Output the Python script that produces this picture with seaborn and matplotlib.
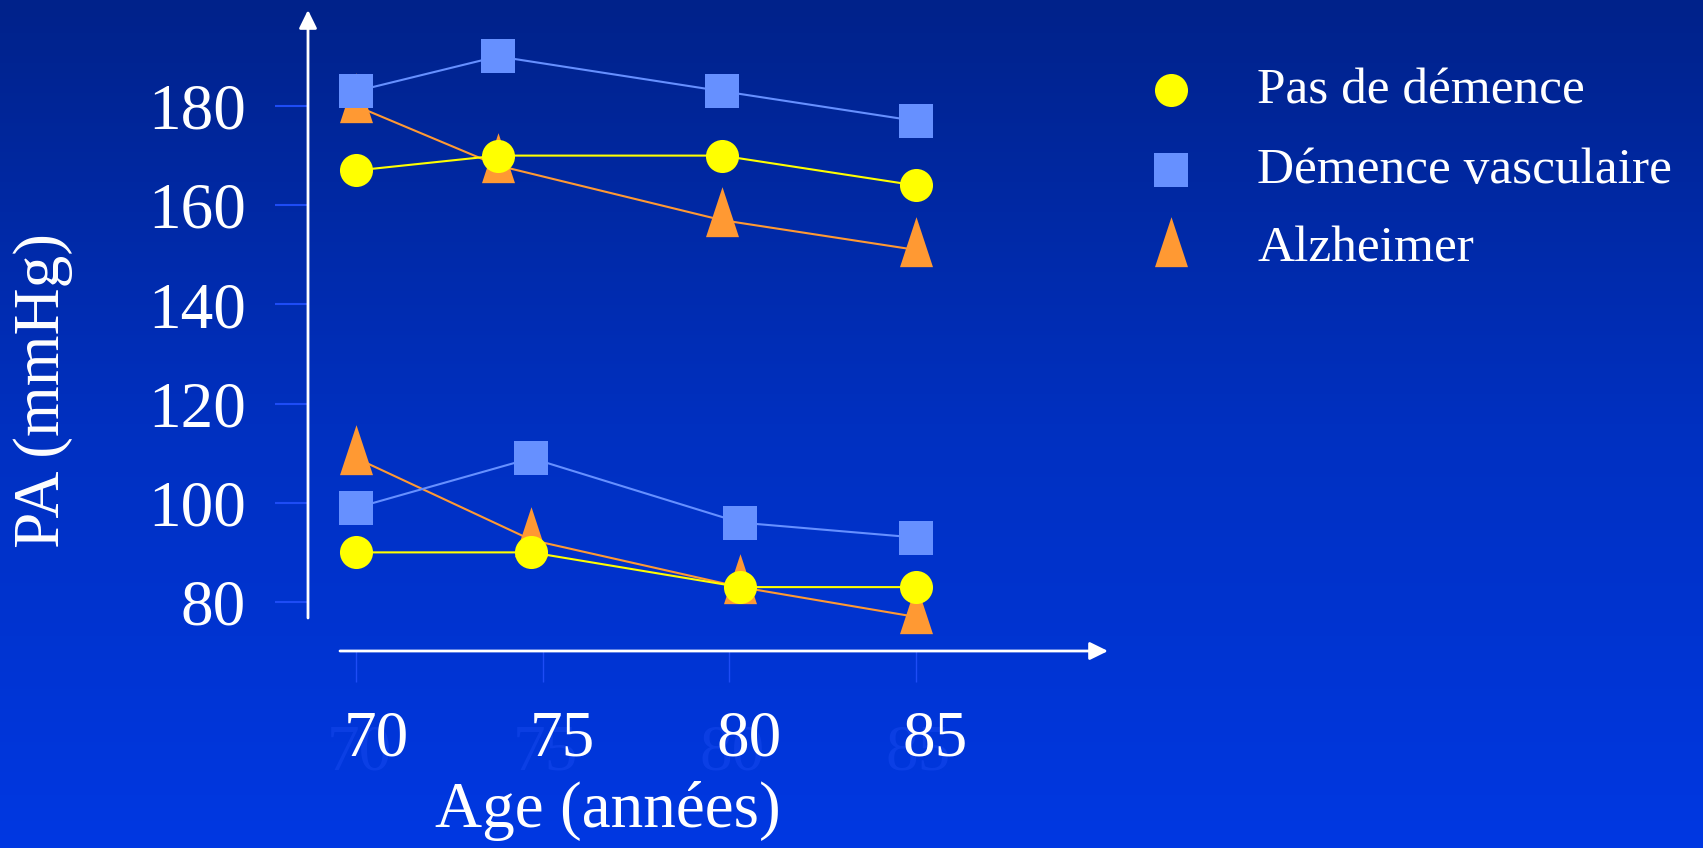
import numpy as np
import pandas as pd
import matplotlib
matplotlib.use("Agg")
import matplotlib.pyplot as plt
import matplotlib.transforms as mtransforms
from matplotlib.path import Path
from matplotlib.lines import Line2D
from matplotlib.colors import LinearSegmentedColormap
import seaborn as sns

# Data
groupes = ["Pas de démence", "Démence vasculaire", "Alzheimer"]
ages_pas = [70, 73.8, 79.8, 85]   # systolic points
ages_pad = [70, 74.7, 80.3, 85]   # diastolic points
pas_sans = [167, 170, 170, 164]
pas_vasc = [183, 190, 183, 177]
pas_alz = [180, 168, 157, 151]
pad_sans = [90, 90, 83, 83]
pad_vasc = [99, 109, 96, 93]
pad_alz = [109, 92.5, 83, 77]
x_ticks = [70, 75, 80, 85]
x_labels = ["70", "75", "80", "85"]
y_ticks = [80, 100, 120, 140, 160, 180]
y_labels = ["80", "100", "120", "140", "160", "180"]

rows = []
for g, pas, pad in zip(groupes, [pas_sans, pas_vasc, pas_alz], [pad_sans, pad_vasc, pad_alz]):
    for a, v in zip(ages_pas, pas):
        rows.append({"groupe": g, "mesure": "PAS", "age": a, "pa": v})
    for a, v in zip(ages_pad, pad):
        rows.append({"groupe": g, "mesure": "PAD", "age": a, "pa": v})
df = pd.DataFrame(rows)

sns.set_style("white")
plt.rcParams["font.family"] = ["Liberation Serif", "DejaVu Serif"]

W, H, DPI = 1703, 848, 100
fig = plt.figure(figsize=(W / DPI, H / DPI), dpi=DPI)

# gradient background
bg = fig.add_axes([0, 0, 1, 1], zorder=-10)
cmap = LinearSegmentedColormap.from_list(
    "slide", [(0.0, "#00228a"), (0.5, "#0030c0"), (1.0, "#0038e2")])
bg.imshow(np.linspace(0, 1, 256)[:, None], aspect="auto", cmap=cmap,
          extent=[0, 1, 0, 1])
bg.axis("off")

ax = fig.add_axes([0.16536, 0.21993, 0.48614, 0.77205])
ax.patch.set_alpha(0)

# triangle anchored on its centroid, 33x50 px
tri = Path([(0, 2), (-0.99, -1), (0.99, -1), (0, 2)],
           [Path.MOVETO, Path.LINETO, Path.LINETO, Path.CLOSEPOLY])

styles = {
    "Alzheimer": dict(color="#ff9933", marker=tri, markersize=48),
    "Démence vasculaire": dict(color="#6690ff", marker="s", markersize=23.8),
    "Pas de démence": dict(color="#ffff00", marker="o", markersize=23.8),
}

for g in ["Alzheimer", "Démence vasculaire", "Pas de démence"]:
    st = styles[g]
    sns.lineplot(data=df[df["groupe"] == g], x="age", y="pa", units="mesure",
                 estimator=None, sort=False, ax=ax, legend=False,
                 color=st["color"], marker=st["marker"], markersize=st["markersize"],
                 markeredgewidth=0, linewidth=1.5)

ax.set_xlim(68, 90.2)
ax.set_ylim(68, 200)
for s in ax.spines.values():
    s.set_visible(False)
ax.spines["left"].set_position(("data", 68.715))
ax.spines["bottom"].set_position(("data", 70.12))

tick_col = "#1e4cf5"
ax.set_yticks(y_ticks)
ax.set_yticklabels(y_labels)
ax.set_xticks(x_ticks)
ax.set_xticklabels(x_labels)
ax.tick_params(axis="y", direction="out", length=23.8, width=1.5, color=tick_col,
               pad=21, labelsize=47, labelcolor="white", left=True)
ax.tick_params(axis="x", direction="out", length=22.3, width=1.0, color=tick_col,
               pad=20, labelsize=47, labelcolor="white", bottom=True)
shift = mtransforms.ScaledTranslation(20 / DPI, 0, fig.dpi_scale_trans)
for lab in ax.get_xticklabels():
    lab.set_transform(lab.get_transform() + shift)

# faint shadow digits under the x labels
shadow = mtransforms.ScaledTranslation(3 / DPI, -(31 + 28 + 14) / DPI, fig.dpi_scale_trans)
for x, lab in zip(x_ticks, x_labels):
    ax.text(x, 70.12, lab, transform=ax.transData + shadow, ha="center", va="top",
            fontsize=47, color="#2a58ff", alpha=0.28, zorder=0)
ax.set_xlabel("")
ax.set_ylabel("")

# axes drawn as arrows
arrow = dict(arrowstyle="-|>,head_length=0.55,head_width=0.27", color="white",
             lw=2, shrinkA=0, shrinkB=0, mutation_scale=20)
ax.annotate("", xy=(308, H - 10), xytext=(308, H - 618),
            xycoords="figure pixels", textcoords="figure pixels", arrowprops=arrow)
ax.annotate("", xy=(1108, H - 651), xytext=(340, H - 651),
            xycoords="figure pixels", textcoords="figure pixels", arrowprops=arrow)

fig.text(43 / W, 1 - 391 / H, "PA (mmHg)", rotation=90, ha="center", va="center",
         fontsize=47, color="white")
fig.text(608 / W, 1 - 811 / H, "Age (années)", ha="center", va="center",
         fontsize=47, color="white")

# legend: markers only
leg_y = [90, 170, 250]
leg_base = [103, 183, 262]
for g, y, yb in zip(groupes, leg_y, leg_base):
    st = styles[g]
    fig.add_artist(Line2D([1171 / W], [1 - y / H], transform=fig.transFigure,
                          linestyle="none", marker=st["marker"],
                          markersize=st["markersize"], markeredgewidth=0,
                          color=st["color"]))
    fig.text(1257 / W, 1 - yb / H, g, ha="left", va="baseline", fontsize=37,
             color="white")

fig.savefig("out.png", dpi=DPI)
